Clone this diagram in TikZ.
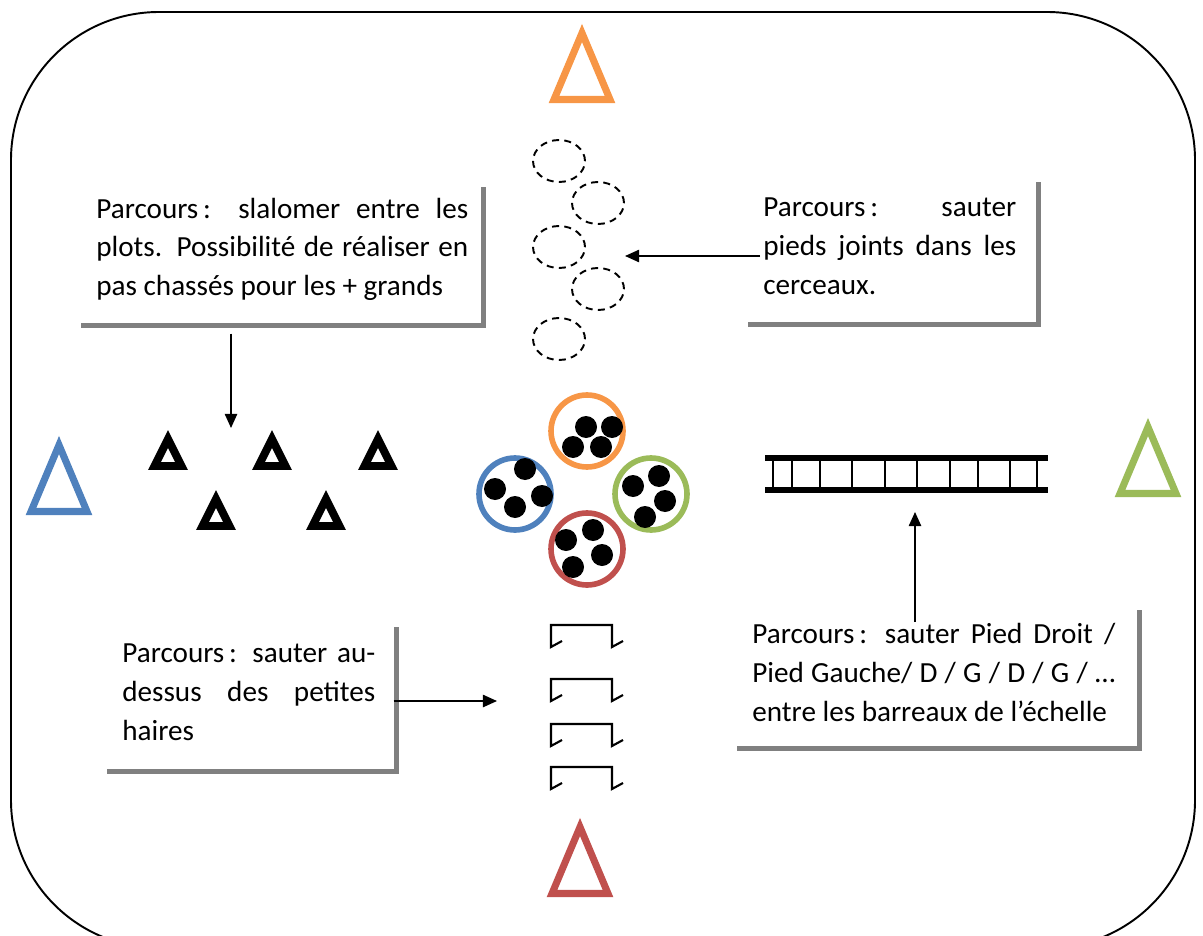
\documentclass[tikz,border=0pt]{standalone}
\usepackage{fontspec}
\setmainfont{Carlito}
\usetikzlibrary{arrows.meta,calc}
\definecolor{orangeplot}{HTML}{F79646}
\definecolor{bleuplot}{HTML}{4F81BD}
\definecolor{vertplot}{HTML}{9BBB59}
\definecolor{rougeplot}{HTML}{C0504D}
\definecolor{gris}{HTML}{808080}
\newcommand{\finconsigne}{\par\vspace{0.28cm}}

\begin{document}
\begin{tikzpicture}[x=0.02cm, y=-0.02cm, >={Triangle[length=8pt,width=7pt]},
  consigne/.style={anchor=north west, text width=#1, inner xsep=0.3cm, inner ysep=0pt,
    align=justify, font=\fontsize{16.6pt}{22pt}\selectfont,
    execute at end node=\finconsigne},
  ombrage/.style={draw=gris, line width=2.8pt},
  fleche/.style={->, line width=0.9pt},
  cerceau/.style={dash pattern=on 4pt off 3pt, line width=1.1pt},
  borne/.pic={\draw[line width=4pt, line join=miter] (0,-33) -- (28,33.5) -- (-28,33.5) -- cycle;},
  cone/.pic={\draw[line width=4.5pt, line join=miter] (0,-11) -- (13.5,16) -- (-13.5,16) -- cycle;}]
\useasboundingbox (0,0) rectangle (1203,936);
\clip (0,0) rectangle (1203,936);
%\draw [very thin, gray] (0,0) grid (1203,936);
\draw[line width=1.1pt, rounded corners=2.96cm] (11,12) rectangle (1195,948);

% bornes de couleur
\pic[color=orangeplot] at (582,66) {borne};
\pic[color=bleuplot] at (59,478) {borne};
\pic[color=vertplot] at (1148,460) {borne};
\pic[color=rougeplot] at (580,860) {borne};

% plots
\foreach \x/\y in {168/450,272/450,378/450,216/510,326/510}
  \pic at (\x,\y) {cone};

% cerceaux
\foreach \x/\y in {559/161,598/203,559/247,598/289,559/339}
  \draw[cerceau] (\x,\y) ellipse[x radius=0.52cm, y radius=0.42cm];

% balles
\draw[orangeplot, line width=3.2pt] (587,431) circle[radius=0.72cm];
\draw[bleuplot, line width=3.2pt] (515,494) circle[radius=0.72cm];
\draw[vertplot, line width=3.2pt] (651,494) circle[radius=0.72cm];
\draw[rougeplot, line width=3.2pt] (587,549) circle[radius=0.72cm];
\foreach \x/\y in {586/427,612/427,573/447,601/447, 525/469,495/489,542/496,515/507,
    659/476,633/486,665/501,645/517, 593/530,566/540,602/555,573/567}
  \fill (\x,\y) circle[radius=0.22cm];

% echelle
\draw[line width=3.4pt] (765,458) -- (1048,458) (765,490) -- (1048,490);
\foreach \x in {773,792,820,852,885,917,950,978,1010,1037}
  \draw[line width=0.9pt] (\x,458) -- (\x,490);

% haies
\foreach \y in {625,679,724,767}
  \draw[line width=1.2pt] (562,\y+16) -- (551,\y+22) -- (551,\y) -- (612,\y) -- (612,\y+22) -- (623,\y+16);

% consignes
\node[consigne=7.44cm, minimum height=2.76cm] (plots) at (81,187)
  {Parcours\,: slalomer entre les\linebreak plots. Possibilité de réaliser en\linebreak pas chassés pour les + grands};
\node[consigne=5.06cm, minimum height=2.84cm] (cerceaux) at (748,182)
  {Parcours\,: sauter\linebreak pieds joints dans les\linebreak cerceaux.};
\node[consigne=5.06cm, minimum height=2.88cm] (haies) at (107,627)
  {Parcours\,: sauter au-\linebreak dessus des petites\linebreak haires};
\node[consigne=7.26cm, minimum height=2.76cm] (echelle) at (737,610)
  {Parcours\,: sauter Pied Droit /\linebreak Pied Gauche/ D / G / D / G / …\linebreak entre les barreaux de l’échelle};
\foreach \b/\d in {plots/0,cerceaux/7,haies/6,echelle/9}
  \draw[ombrage] ($(\b.north east)+(\d,0)$) |- (\b.south west);

% fleches
\coordinate (finA) at (231,428);
\coordinate (finB) at (625,256);
\coordinate (finC) at (497,701);
\coordinate (finD) at (915,512);
\draw[fleche] ($(finA |- plots.south)+(0,8)$) -- (finA);
\draw[fleche] ($(cerceaux.west |- finB)+(12,0)$) -- (finB);
\draw[fleche] ($(haies.east |- finC)+(3,0)$) -- (finC);
\draw[fleche] ($(finD |- echelle.north)+(0,12)$) -- (finD);
\end{tikzpicture}
\end{document}
